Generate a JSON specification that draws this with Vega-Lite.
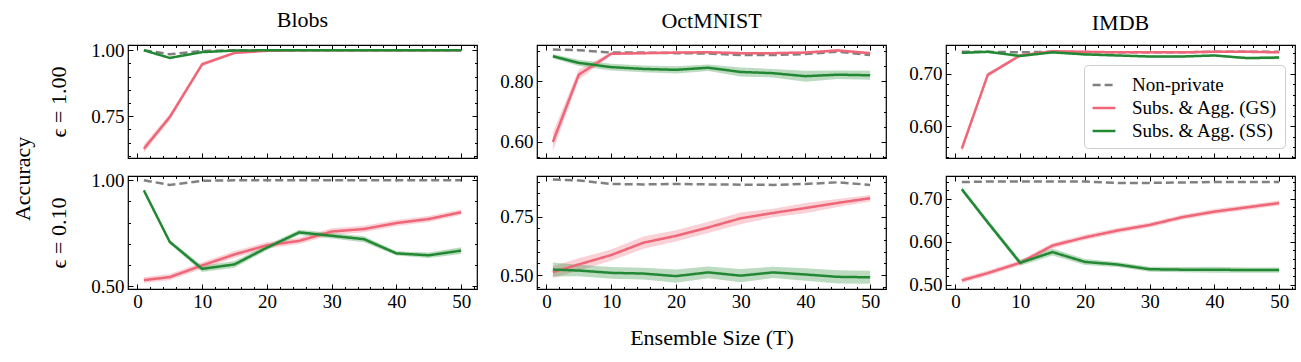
{
"$schema": "https://vega.github.io/schema/vega-lite/v6.json",
"padding": {"left": 12, "top": 8, "right": 8, "bottom": 8},
"data": {"values": [
{"d":"Blobs","e":"1.00","s":"NP","T":1,"a":1.0},{"d":"Blobs","e":"1.00","s":"NP","T":5,"a":0.985},{"d":"Blobs","e":"1.00","s":"NP","T":10,"a":0.997},{"d":"Blobs","e":"1.00","s":"NP","T":15,"a":1.0},{"d":"Blobs","e":"1.00","s":"NP","T":20,"a":1.0},{"d":"Blobs","e":"1.00","s":"NP","T":25,"a":1.0},{"d":"Blobs","e":"1.00","s":"NP","T":30,"a":1.0},{"d":"Blobs","e":"1.00","s":"NP","T":35,"a":1.0},{"d":"Blobs","e":"1.00","s":"NP","T":40,"a":1.0},{"d":"Blobs","e":"1.00","s":"NP","T":45,"a":1.0},{"d":"Blobs","e":"1.00","s":"NP","T":50,"a":1.0},
{"d":"Blobs","e":"1.00","s":"GS","T":1,"a":0.627,"lo":0.612,"hi":0.642},{"d":"Blobs","e":"1.00","s":"GS","T":5,"a":0.747,"lo":0.735,"hi":0.759},{"d":"Blobs","e":"1.00","s":"GS","T":10,"a":0.947,"lo":0.939,"hi":0.955},{"d":"Blobs","e":"1.00","s":"GS","T":15,"a":0.99,"lo":0.986,"hi":0.994},{"d":"Blobs","e":"1.00","s":"GS","T":20,"a":0.998,"lo":0.996,"hi":1.0},{"d":"Blobs","e":"1.00","s":"GS","T":25,"a":1.0,"lo":0.998,"hi":1.0},{"d":"Blobs","e":"1.00","s":"GS","T":30,"a":1.0,"lo":0.998,"hi":1.0},{"d":"Blobs","e":"1.00","s":"GS","T":35,"a":1.0,"lo":0.998,"hi":1.0},{"d":"Blobs","e":"1.00","s":"GS","T":40,"a":1.0,"lo":0.998,"hi":1.0},{"d":"Blobs","e":"1.00","s":"GS","T":45,"a":1.0,"lo":0.998,"hi":1.0},{"d":"Blobs","e":"1.00","s":"GS","T":50,"a":1.0,"lo":0.998,"hi":1.0},
{"d":"Blobs","e":"1.00","s":"SS","T":1,"a":1.0,"lo":0.998,"hi":1.0},{"d":"Blobs","e":"1.00","s":"SS","T":5,"a":0.971,"lo":0.968,"hi":0.974},{"d":"Blobs","e":"1.00","s":"SS","T":10,"a":0.993,"lo":0.99,"hi":0.996},{"d":"Blobs","e":"1.00","s":"SS","T":15,"a":0.999,"lo":0.997,"hi":1.0},{"d":"Blobs","e":"1.00","s":"SS","T":20,"a":1.0,"lo":0.999,"hi":1.0},{"d":"Blobs","e":"1.00","s":"SS","T":25,"a":1.0,"lo":0.999,"hi":1.0},{"d":"Blobs","e":"1.00","s":"SS","T":30,"a":1.0,"lo":0.999,"hi":1.0},{"d":"Blobs","e":"1.00","s":"SS","T":35,"a":1.0,"lo":0.999,"hi":1.0},{"d":"Blobs","e":"1.00","s":"SS","T":40,"a":1.0,"lo":0.999,"hi":1.0},{"d":"Blobs","e":"1.00","s":"SS","T":45,"a":1.0,"lo":0.999,"hi":1.0},{"d":"Blobs","e":"1.00","s":"SS","T":50,"a":1.0,"lo":0.999,"hi":1.0},
{"d":"Blobs","e":"0.10","s":"NP","T":1,"a":1.0},{"d":"Blobs","e":"0.10","s":"NP","T":5,"a":0.978},{"d":"Blobs","e":"0.10","s":"NP","T":10,"a":0.997},{"d":"Blobs","e":"0.10","s":"NP","T":15,"a":1.0},{"d":"Blobs","e":"0.10","s":"NP","T":20,"a":1.0},{"d":"Blobs","e":"0.10","s":"NP","T":25,"a":1.0},{"d":"Blobs","e":"0.10","s":"NP","T":30,"a":1.0},{"d":"Blobs","e":"0.10","s":"NP","T":35,"a":1.0},{"d":"Blobs","e":"0.10","s":"NP","T":40,"a":1.0},{"d":"Blobs","e":"0.10","s":"NP","T":45,"a":1.0},{"d":"Blobs","e":"0.10","s":"NP","T":50,"a":1.0},
{"d":"Blobs","e":"0.10","s":"GS","T":1,"a":0.529,"lo":0.515,"hi":0.543},{"d":"Blobs","e":"0.10","s":"GS","T":5,"a":0.543,"lo":0.528,"hi":0.558},{"d":"Blobs","e":"0.10","s":"GS","T":10,"a":0.598,"lo":0.583,"hi":0.613},{"d":"Blobs","e":"0.10","s":"GS","T":15,"a":0.65,"lo":0.634,"hi":0.666},{"d":"Blobs","e":"0.10","s":"GS","T":20,"a":0.693,"lo":0.678,"hi":0.708},{"d":"Blobs","e":"0.10","s":"GS","T":25,"a":0.714,"lo":0.699,"hi":0.729},{"d":"Blobs","e":"0.10","s":"GS","T":30,"a":0.758,"lo":0.743,"hi":0.773},{"d":"Blobs","e":"0.10","s":"GS","T":35,"a":0.77,"lo":0.755,"hi":0.785},{"d":"Blobs","e":"0.10","s":"GS","T":40,"a":0.798,"lo":0.784,"hi":0.812},{"d":"Blobs","e":"0.10","s":"GS","T":45,"a":0.817,"lo":0.803,"hi":0.831},{"d":"Blobs","e":"0.10","s":"GS","T":50,"a":0.849,"lo":0.836,"hi":0.862},
{"d":"Blobs","e":"0.10","s":"SS","T":1,"a":0.952,"lo":0.946,"hi":0.958},{"d":"Blobs","e":"0.10","s":"SS","T":5,"a":0.709,"lo":0.7,"hi":0.718},{"d":"Blobs","e":"0.10","s":"SS","T":10,"a":0.582,"lo":0.567,"hi":0.597},{"d":"Blobs","e":"0.10","s":"SS","T":15,"a":0.603,"lo":0.587,"hi":0.619},{"d":"Blobs","e":"0.10","s":"SS","T":20,"a":0.682,"lo":0.67,"hi":0.694},{"d":"Blobs","e":"0.10","s":"SS","T":25,"a":0.754,"lo":0.742,"hi":0.766},{"d":"Blobs","e":"0.10","s":"SS","T":30,"a":0.738,"lo":0.725,"hi":0.751},{"d":"Blobs","e":"0.10","s":"SS","T":35,"a":0.722,"lo":0.708,"hi":0.736},{"d":"Blobs","e":"0.10","s":"SS","T":40,"a":0.655,"lo":0.645,"hi":0.665},{"d":"Blobs","e":"0.10","s":"SS","T":45,"a":0.646,"lo":0.633,"hi":0.659},{"d":"Blobs","e":"0.10","s":"SS","T":50,"a":0.668,"lo":0.652,"hi":0.684},
{"d":"OctMNIST","e":"1.00","s":"NP","T":1,"a":0.905},{"d":"OctMNIST","e":"1.00","s":"NP","T":5,"a":0.903},{"d":"OctMNIST","e":"1.00","s":"NP","T":10,"a":0.895},{"d":"OctMNIST","e":"1.00","s":"NP","T":15,"a":0.895},{"d":"OctMNIST","e":"1.00","s":"NP","T":20,"a":0.893},{"d":"OctMNIST","e":"1.00","s":"NP","T":25,"a":0.892},{"d":"OctMNIST","e":"1.00","s":"NP","T":30,"a":0.887},{"d":"OctMNIST","e":"1.00","s":"NP","T":35,"a":0.887},{"d":"OctMNIST","e":"1.00","s":"NP","T":40,"a":0.89},{"d":"OctMNIST","e":"1.00","s":"NP","T":45,"a":0.898},{"d":"OctMNIST","e":"1.00","s":"NP","T":50,"a":0.887},
{"d":"OctMNIST","e":"1.00","s":"GS","T":1,"a":0.6,"lo":0.57,"hi":0.63},{"d":"OctMNIST","e":"1.00","s":"GS","T":5,"a":0.822,"lo":0.805,"hi":0.839},{"d":"OctMNIST","e":"1.00","s":"GS","T":10,"a":0.891,"lo":0.886,"hi":0.896},{"d":"OctMNIST","e":"1.00","s":"GS","T":15,"a":0.893,"lo":0.889,"hi":0.897},{"d":"OctMNIST","e":"1.00","s":"GS","T":20,"a":0.895,"lo":0.891,"hi":0.899},{"d":"OctMNIST","e":"1.00","s":"GS","T":25,"a":0.896,"lo":0.892,"hi":0.9},{"d":"OctMNIST","e":"1.00","s":"GS","T":30,"a":0.893,"lo":0.889,"hi":0.897},{"d":"OctMNIST","e":"1.00","s":"GS","T":35,"a":0.893,"lo":0.889,"hi":0.897},{"d":"OctMNIST","e":"1.00","s":"GS","T":40,"a":0.895,"lo":0.891,"hi":0.899},{"d":"OctMNIST","e":"1.00","s":"GS","T":45,"a":0.902,"lo":0.898,"hi":0.906},{"d":"OctMNIST","e":"1.00","s":"GS","T":50,"a":0.893,"lo":0.889,"hi":0.897},
{"d":"OctMNIST","e":"1.00","s":"SS","T":1,"a":0.883,"lo":0.876,"hi":0.89},{"d":"OctMNIST","e":"1.00","s":"SS","T":5,"a":0.861,"lo":0.851,"hi":0.871},{"d":"OctMNIST","e":"1.00","s":"SS","T":10,"a":0.847,"lo":0.836,"hi":0.858},{"d":"OctMNIST","e":"1.00","s":"SS","T":15,"a":0.841,"lo":0.83,"hi":0.852},{"d":"OctMNIST","e":"1.00","s":"SS","T":20,"a":0.838,"lo":0.826,"hi":0.85},{"d":"OctMNIST","e":"1.00","s":"SS","T":25,"a":0.845,"lo":0.834,"hi":0.856},{"d":"OctMNIST","e":"1.00","s":"SS","T":30,"a":0.831,"lo":0.816,"hi":0.846},{"d":"OctMNIST","e":"1.00","s":"SS","T":35,"a":0.827,"lo":0.813,"hi":0.841},{"d":"OctMNIST","e":"1.00","s":"SS","T":40,"a":0.817,"lo":0.799,"hi":0.835},{"d":"OctMNIST","e":"1.00","s":"SS","T":45,"a":0.822,"lo":0.808,"hi":0.836},{"d":"OctMNIST","e":"1.00","s":"SS","T":50,"a":0.82,"lo":0.805,"hi":0.835},
{"d":"OctMNIST","e":"0.10","s":"NP","T":1,"a":0.909},{"d":"OctMNIST","e":"0.10","s":"NP","T":5,"a":0.905},{"d":"OctMNIST","e":"0.10","s":"NP","T":10,"a":0.89},{"d":"OctMNIST","e":"0.10","s":"NP","T":15,"a":0.888},{"d":"OctMNIST","e":"0.10","s":"NP","T":20,"a":0.89},{"d":"OctMNIST","e":"0.10","s":"NP","T":25,"a":0.888},{"d":"OctMNIST","e":"0.10","s":"NP","T":30,"a":0.887},{"d":"OctMNIST","e":"0.10","s":"NP","T":35,"a":0.886},{"d":"OctMNIST","e":"0.10","s":"NP","T":40,"a":0.89},{"d":"OctMNIST","e":"0.10","s":"NP","T":45,"a":0.897},{"d":"OctMNIST","e":"0.10","s":"NP","T":50,"a":0.886},
{"d":"OctMNIST","e":"0.10","s":"GS","T":1,"a":0.513,"lo":0.488,"hi":0.538},{"d":"OctMNIST","e":"0.10","s":"GS","T":5,"a":0.546,"lo":0.52,"hi":0.572},{"d":"OctMNIST","e":"0.10","s":"GS","T":10,"a":0.586,"lo":0.562,"hi":0.61},{"d":"OctMNIST","e":"0.10","s":"GS","T":15,"a":0.639,"lo":0.613,"hi":0.665},{"d":"OctMNIST","e":"0.10","s":"GS","T":20,"a":0.668,"lo":0.644,"hi":0.692},{"d":"OctMNIST","e":"0.10","s":"GS","T":25,"a":0.704,"lo":0.68,"hi":0.728},{"d":"OctMNIST","e":"0.10","s":"GS","T":30,"a":0.743,"lo":0.718,"hi":0.768},{"d":"OctMNIST","e":"0.10","s":"GS","T":35,"a":0.766,"lo":0.748,"hi":0.784},{"d":"OctMNIST","e":"0.10","s":"GS","T":40,"a":0.787,"lo":0.765,"hi":0.809},{"d":"OctMNIST","e":"0.10","s":"GS","T":45,"a":0.809,"lo":0.792,"hi":0.826},{"d":"OctMNIST","e":"0.10","s":"GS","T":50,"a":0.829,"lo":0.815,"hi":0.843},
{"d":"OctMNIST","e":"0.10","s":"SS","T":1,"a":0.524,"lo":0.494,"hi":0.554},{"d":"OctMNIST","e":"0.10","s":"SS","T":5,"a":0.52,"lo":0.495,"hi":0.545},{"d":"OctMNIST","e":"0.10","s":"SS","T":10,"a":0.51,"lo":0.485,"hi":0.535},{"d":"OctMNIST","e":"0.10","s":"SS","T":15,"a":0.507,"lo":0.482,"hi":0.532},{"d":"OctMNIST","e":"0.10","s":"SS","T":20,"a":0.496,"lo":0.468,"hi":0.524},{"d":"OctMNIST","e":"0.10","s":"SS","T":25,"a":0.512,"lo":0.487,"hi":0.537},{"d":"OctMNIST","e":"0.10","s":"SS","T":30,"a":0.498,"lo":0.47,"hi":0.526},{"d":"OctMNIST","e":"0.10","s":"SS","T":35,"a":0.512,"lo":0.488,"hi":0.536},{"d":"OctMNIST","e":"0.10","s":"SS","T":40,"a":0.503,"lo":0.476,"hi":0.53},{"d":"OctMNIST","e":"0.10","s":"SS","T":45,"a":0.493,"lo":0.465,"hi":0.521},{"d":"OctMNIST","e":"0.10","s":"SS","T":50,"a":0.491,"lo":0.463,"hi":0.519},
{"d":"IMDB","e":"1.00","s":"NP","T":1,"a":0.742},{"d":"IMDB","e":"1.00","s":"NP","T":5,"a":0.742},{"d":"IMDB","e":"1.00","s":"NP","T":10,"a":0.741},{"d":"IMDB","e":"1.00","s":"NP","T":15,"a":0.742},{"d":"IMDB","e":"1.00","s":"NP","T":20,"a":0.741},{"d":"IMDB","e":"1.00","s":"NP","T":25,"a":0.741},{"d":"IMDB","e":"1.00","s":"NP","T":30,"a":0.741},{"d":"IMDB","e":"1.00","s":"NP","T":35,"a":0.741},{"d":"IMDB","e":"1.00","s":"NP","T":40,"a":0.742},{"d":"IMDB","e":"1.00","s":"NP","T":45,"a":0.742},{"d":"IMDB","e":"1.00","s":"NP","T":50,"a":0.742},
{"d":"IMDB","e":"1.00","s":"GS","T":1,"a":0.557,"lo":0.55,"hi":0.564},{"d":"IMDB","e":"1.00","s":"GS","T":5,"a":0.698,"lo":0.694,"hi":0.702},{"d":"IMDB","e":"1.00","s":"GS","T":10,"a":0.735,"lo":0.732,"hi":0.738},{"d":"IMDB","e":"1.00","s":"GS","T":15,"a":0.743,"lo":0.741,"hi":0.745},{"d":"IMDB","e":"1.00","s":"GS","T":20,"a":0.742,"lo":0.74,"hi":0.744},{"d":"IMDB","e":"1.00","s":"GS","T":25,"a":0.741,"lo":0.739,"hi":0.743},{"d":"IMDB","e":"1.00","s":"GS","T":30,"a":0.741,"lo":0.739,"hi":0.743},{"d":"IMDB","e":"1.00","s":"GS","T":35,"a":0.741,"lo":0.739,"hi":0.743},{"d":"IMDB","e":"1.00","s":"GS","T":40,"a":0.742,"lo":0.74,"hi":0.744},{"d":"IMDB","e":"1.00","s":"GS","T":45,"a":0.742,"lo":0.74,"hi":0.744},{"d":"IMDB","e":"1.00","s":"GS","T":50,"a":0.741,"lo":0.739,"hi":0.743},
{"d":"IMDB","e":"1.00","s":"SS","T":1,"a":0.74,"lo":0.738,"hi":0.742},{"d":"IMDB","e":"1.00","s":"SS","T":5,"a":0.742,"lo":0.74,"hi":0.744},{"d":"IMDB","e":"1.00","s":"SS","T":10,"a":0.734,"lo":0.732,"hi":0.736},{"d":"IMDB","e":"1.00","s":"SS","T":15,"a":0.741,"lo":0.739,"hi":0.743},{"d":"IMDB","e":"1.00","s":"SS","T":20,"a":0.737,"lo":0.735,"hi":0.739},{"d":"IMDB","e":"1.00","s":"SS","T":25,"a":0.735,"lo":0.733,"hi":0.737},{"d":"IMDB","e":"1.00","s":"SS","T":30,"a":0.733,"lo":0.731,"hi":0.735},{"d":"IMDB","e":"1.00","s":"SS","T":35,"a":0.733,"lo":0.731,"hi":0.735},{"d":"IMDB","e":"1.00","s":"SS","T":40,"a":0.735,"lo":0.733,"hi":0.737},{"d":"IMDB","e":"1.00","s":"SS","T":45,"a":0.73,"lo":0.728,"hi":0.732},{"d":"IMDB","e":"1.00","s":"SS","T":50,"a":0.731,"lo":0.728,"hi":0.734},
{"d":"IMDB","e":"0.10","s":"NP","T":1,"a":0.739},{"d":"IMDB","e":"0.10","s":"NP","T":5,"a":0.74},{"d":"IMDB","e":"0.10","s":"NP","T":10,"a":0.74},{"d":"IMDB","e":"0.10","s":"NP","T":15,"a":0.74},{"d":"IMDB","e":"0.10","s":"NP","T":20,"a":0.74},{"d":"IMDB","e":"0.10","s":"NP","T":25,"a":0.737},{"d":"IMDB","e":"0.10","s":"NP","T":30,"a":0.737},{"d":"IMDB","e":"0.10","s":"NP","T":35,"a":0.738},{"d":"IMDB","e":"0.10","s":"NP","T":40,"a":0.739},{"d":"IMDB","e":"0.10","s":"NP","T":45,"a":0.739},{"d":"IMDB","e":"0.10","s":"NP","T":50,"a":0.739},
{"d":"IMDB","e":"0.10","s":"GS","T":1,"a":0.51,"lo":0.504,"hi":0.516},{"d":"IMDB","e":"0.10","s":"GS","T":5,"a":0.527,"lo":0.521,"hi":0.533},{"d":"IMDB","e":"0.10","s":"GS","T":10,"a":0.551,"lo":0.545,"hi":0.557},{"d":"IMDB","e":"0.10","s":"GS","T":15,"a":0.591,"lo":0.585,"hi":0.597},{"d":"IMDB","e":"0.10","s":"GS","T":20,"a":0.61,"lo":0.604,"hi":0.616},{"d":"IMDB","e":"0.10","s":"GS","T":25,"a":0.626,"lo":0.62,"hi":0.632},{"d":"IMDB","e":"0.10","s":"GS","T":30,"a":0.639,"lo":0.633,"hi":0.645},{"d":"IMDB","e":"0.10","s":"GS","T":35,"a":0.657,"lo":0.651,"hi":0.663},{"d":"IMDB","e":"0.10","s":"GS","T":40,"a":0.67,"lo":0.664,"hi":0.676},{"d":"IMDB","e":"0.10","s":"GS","T":45,"a":0.68,"lo":0.674,"hi":0.686},{"d":"IMDB","e":"0.10","s":"GS","T":50,"a":0.69,"lo":0.684,"hi":0.696},
{"d":"IMDB","e":"0.10","s":"SS","T":1,"a":0.722,"lo":0.716,"hi":0.728},{"d":"IMDB","e":"0.10","s":"SS","T":5,"a":0.645,"lo":0.639,"hi":0.651},{"d":"IMDB","e":"0.10","s":"SS","T":10,"a":0.551,"lo":0.544,"hi":0.558},{"d":"IMDB","e":"0.10","s":"SS","T":15,"a":0.576,"lo":0.568,"hi":0.584},{"d":"IMDB","e":"0.10","s":"SS","T":20,"a":0.553,"lo":0.546,"hi":0.56},{"d":"IMDB","e":"0.10","s":"SS","T":25,"a":0.547,"lo":0.541,"hi":0.553},{"d":"IMDB","e":"0.10","s":"SS","T":30,"a":0.536,"lo":0.53,"hi":0.542},{"d":"IMDB","e":"0.10","s":"SS","T":35,"a":0.535,"lo":0.529,"hi":0.541},{"d":"IMDB","e":"0.10","s":"SS","T":40,"a":0.535,"lo":0.528,"hi":0.542},{"d":"IMDB","e":"0.10","s":"SS","T":45,"a":0.534,"lo":0.528,"hi":0.54},{"d":"IMDB","e":"0.10","s":"SS","T":50,"a":0.534,"lo":0.528,"hi":0.54}
]},
"title": {"text": "Accuracy", "orient": "left", "anchor": "middle", "offset": 12},
"columns": 3,
"spacing": {"row": 18, "column": 60},
"bounds": "flush",
"resolve": {"scale": {"color": "independent", "strokeDash": "independent", "fill": "independent"}},
"concat": [
{"width": 349, "height": 113, "title": {"text": "Blobs"},
 "transform": [{"filter": "datum.d=='Blobs' && datum.e=='1.00'"}],
 "layer": [
  {"transform": [{"filter": "datum.s!='NP'"}], "mark": {"type": "area", "opacity": 0.3, "clip": true},
   "encoding": {
    "x": {"field": "T", "type": "quantitative", "scale": {"domain": [-1.45, 52.45], "nice": false, "zero": false},
      "axis": {"orient": "bottom", "labels": false, "title": null, "values": [0,2,4,6,8,10,12,14,16,18,20,22,24,26,28,30,32,34,36,38,40,42,44,46,48,50,52], "tickSize": {"condition": {"test": "datum.value % 10 == 0", "value": -5}, "value": -2.5}}},
    "y": {"field": "lo", "type": "quantitative", "scale": {"domain": [0.592, 1.02], "nice": false, "zero": false},
      "axis": {"orient": "left", "title": "ϵ = 1.00", "titlePadding": 20, "format": ".2f", "values": [0.6,0.65,0.7,0.75,0.8,0.85,0.9,0.95,1.0], "labelExpr": "(datum.value == 0.75 || datum.value == 1) ? datum.label : ''", "labelPadding": 9, "tickSize": {"condition": {"test": "datum.value == 0.75 || datum.value == 1", "value": -5}, "value": -2.5}}},
    "y2": {"field": "hi"},
    "fill": {"field": "s", "type": "nominal", "scale": {"domain": ["GS","SS"], "range": ["#EE6677","#228833"]}, "legend": null}}},
  {"mark": {"type": "line", "clip": true, "strokeWidth": 2.5},
   "encoding": {
    "x": {"field": "T", "type": "quantitative", "axis": {"orient": "top", "labels": false, "title": null, "values": [0,2,4,6,8,10,12,14,16,18,20,22,24,26,28,30,32,34,36,38,40,42,44,46,48,50,52], "tickSize": {"condition": {"test": "datum.value % 10 == 0", "value": -5}, "value": -2.5}}},
    "y": {"field": "a", "type": "quantitative", "axis": {"orient": "right", "labels": false, "title": null, "values": [0.6,0.65,0.7,0.75,0.8,0.85,0.9,0.95,1.0], "tickSize": {"condition": {"test": "datum.value == 0.75 || datum.value == 1", "value": -5}, "value": -2.5}}},
    "color": {"field": "s", "type": "nominal", "scale": {"domain": ["NP","GS","SS"], "range": ["#808080","#EE6677","#228833"]}, "legend": null},
    "strokeDash": {"field": "s", "type": "nominal", "scale": {"domain": ["NP","GS","SS"], "range": [[8,4],[1,0],[1,0]]}, "legend": null}}}
 ],
 "resolve": {"axis": {"x": "independent", "y": "independent"}}},
{"width": 349, "height": 113, "title": {"text": "OctMNIST"},
 "transform": [{"filter": "datum.d=='OctMNIST' && datum.e=='1.00'"}],
 "layer": [
  {"transform": [{"filter": "datum.s!='NP'"}], "mark": {"type": "area", "opacity": 0.3, "clip": true},
   "encoding": {
    "x": {"field": "T", "type": "quantitative", "scale": {"domain": [-1.45, 52.45], "nice": false, "zero": false},
      "axis": {"orient": "bottom", "labels": false, "title": null, "values": [0,2,4,6,8,10,12,14,16,18,20,22,24,26,28,30,32,34,36,38,40,42,44,46,48,50,52], "tickSize": {"condition": {"test": "datum.value % 10 == 0", "value": -5}, "value": -2.5}}},
    "y": {"field": "lo", "type": "quantitative", "scale": {"domain": [0.547, 0.92], "nice": false, "zero": false},
      "axis": {"orient": "left", "title": null, "format": ".2f", "values": [0.55,0.6,0.65,0.7,0.75,0.8,0.85,0.9], "labelExpr": "(datum.value == 0.6 || datum.value == 0.8) ? datum.label : ''", "labelPadding": 9, "tickSize": {"condition": {"test": "datum.value == 0.6 || datum.value == 0.8", "value": -5}, "value": -2.5}}},
    "y2": {"field": "hi"},
    "fill": {"field": "s", "type": "nominal", "scale": {"domain": ["GS","SS"], "range": ["#EE6677","#228833"]}, "legend": null}}},
  {"mark": {"type": "line", "clip": true, "strokeWidth": 2.5},
   "encoding": {
    "x": {"field": "T", "type": "quantitative", "axis": {"orient": "top", "labels": false, "title": null, "values": [0,2,4,6,8,10,12,14,16,18,20,22,24,26,28,30,32,34,36,38,40,42,44,46,48,50,52], "tickSize": {"condition": {"test": "datum.value % 10 == 0", "value": -5}, "value": -2.5}}},
    "y": {"field": "a", "type": "quantitative", "axis": {"orient": "right", "labels": false, "title": null, "values": [0.55,0.6,0.65,0.7,0.75,0.8,0.85,0.9], "tickSize": {"condition": {"test": "datum.value == 0.6 || datum.value == 0.8", "value": -5}, "value": -2.5}}},
    "color": {"field": "s", "type": "nominal", "scale": {"domain": ["NP","GS","SS"], "range": ["#808080","#EE6677","#228833"]}, "legend": null},
    "strokeDash": {"field": "s", "type": "nominal", "scale": {"domain": ["NP","GS","SS"], "range": [[8,4],[1,0],[1,0]]}, "legend": null}}}
 ],
 "resolve": {"axis": {"x": "independent", "y": "independent"}}},
{"width": 349, "height": 113, "title": {"text": "IMDB"},
 "transform": [{"filter": "datum.d=='IMDB' && datum.e=='1.00'"}],
 "layer": [
  {"transform": [{"filter": "datum.s!='NP'"}], "mark": {"type": "area", "opacity": 0.3, "clip": true},
   "encoding": {
    "x": {"field": "T", "type": "quantitative", "scale": {"domain": [-1.45, 52.45], "nice": false, "zero": false},
      "axis": {"orient": "bottom", "labels": false, "title": null, "values": [0,2,4,6,8,10,12,14,16,18,20,22,24,26,28,30,32,34,36,38,40,42,44,46,48,50,52], "tickSize": {"condition": {"test": "datum.value % 10 == 0", "value": -5}, "value": -2.5}}},
    "y": {"field": "lo", "type": "quantitative", "scale": {"domain": [0.539, 0.755], "nice": false, "zero": false},
      "axis": {"orient": "left", "title": null, "format": ".2f", "values": [0.54,0.56,0.58,0.6,0.62,0.64,0.66,0.68,0.7,0.72,0.74], "labelExpr": "(datum.value == 0.6 || datum.value == 0.7) ? datum.label : ''", "labelPadding": 9, "tickSize": {"condition": {"test": "datum.value == 0.6 || datum.value == 0.7", "value": -5}, "value": -2.5}}},
    "y2": {"field": "hi"},
    "fill": {"field": "s", "type": "nominal", "scale": {"domain": ["GS","SS"], "range": ["#EE6677","#228833"]}, "legend": null}}},
  {"mark": {"type": "line", "clip": true, "strokeWidth": 2.5},
   "encoding": {
    "x": {"field": "T", "type": "quantitative", "axis": {"orient": "top", "labels": false, "title": null, "values": [0,2,4,6,8,10,12,14,16,18,20,22,24,26,28,30,32,34,36,38,40,42,44,46,48,50,52], "tickSize": {"condition": {"test": "datum.value % 10 == 0", "value": -5}, "value": -2.5}}},
    "y": {"field": "a", "type": "quantitative", "axis": {"orient": "right", "labels": false, "title": null, "values": [0.54,0.56,0.58,0.6,0.62,0.64,0.66,0.68,0.7,0.72,0.74], "tickSize": {"condition": {"test": "datum.value == 0.6 || datum.value == 0.7", "value": -5}, "value": -2.5}}},
    "color": {"field": "s", "type": "nominal", "scale": {"domain": ["NP","GS","SS"], "range": ["#808080","#EE6677","#228833"]},
      "legend": {"orient": "bottom-right", "offset": 10, "title": null, "labelExpr": "datum.label == 'NP' ? 'Non-private' : datum.label == 'GS' ? 'Subs. & Agg. (GS)' : 'Subs. & Agg. (SS)'"}},
    "strokeDash": {"field": "s", "type": "nominal", "scale": {"domain": ["NP","GS","SS"], "range": [[8,4],[1,0],[1,0]]},
      "legend": {"orient": "bottom-right", "offset": 10, "title": null, "labelExpr": "datum.label == 'NP' ? 'Non-private' : datum.label == 'GS' ? 'Subs. & Agg. (GS)' : 'Subs. & Agg. (SS)'"}}}}
 ],
 "resolve": {"axis": {"x": "independent", "y": "independent"}}},
{"width": 349, "height": 113,
 "transform": [{"filter": "datum.d=='Blobs' && datum.e=='0.10'"}],
 "layer": [
  {"transform": [{"filter": "datum.s!='NP'"}], "mark": {"type": "area", "opacity": 0.3, "clip": true},
   "encoding": {
    "x": {"field": "T", "type": "quantitative", "scale": {"domain": [-1.45, 52.45], "nice": false, "zero": false},
      "axis": {"orient": "bottom", "title": null, "labelPadding": 8, "values": [0,2,4,6,8,10,12,14,16,18,20,22,24,26,28,30,32,34,36,38,40,42,44,46,48,50,52], "labelExpr": "datum.value % 10 == 0 ? datum.label : ''", "tickSize": {"condition": {"test": "datum.value % 10 == 0", "value": -5}, "value": -2.5}}},
    "y": {"field": "lo", "type": "quantitative", "scale": {"domain": [0.487, 1.02], "nice": false, "zero": false},
      "axis": {"orient": "left", "title": "ϵ = 0.10", "titlePadding": 20, "format": ".2f", "values": [0.5,0.6,0.7,0.8,0.9,1.0], "labelExpr": "(datum.value == 0.5 || datum.value == 1) ? datum.label : ''", "labelPadding": 9, "tickSize": {"condition": {"test": "datum.value == 0.5 || datum.value == 1", "value": -5}, "value": -2.5}}},
    "y2": {"field": "hi"},
    "fill": {"field": "s", "type": "nominal", "scale": {"domain": ["GS","SS"], "range": ["#EE6677","#228833"]}, "legend": null}}},
  {"mark": {"type": "line", "clip": true, "strokeWidth": 2.5},
   "encoding": {
    "x": {"field": "T", "type": "quantitative", "axis": {"orient": "top", "labels": false, "title": null, "values": [0,2,4,6,8,10,12,14,16,18,20,22,24,26,28,30,32,34,36,38,40,42,44,46,48,50,52], "tickSize": {"condition": {"test": "datum.value % 10 == 0", "value": -5}, "value": -2.5}}},
    "y": {"field": "a", "type": "quantitative", "axis": {"orient": "right", "labels": false, "title": null, "values": [0.5,0.6,0.7,0.8,0.9,1.0], "tickSize": {"condition": {"test": "datum.value == 0.5 || datum.value == 1", "value": -5}, "value": -2.5}}},
    "color": {"field": "s", "type": "nominal", "scale": {"domain": ["NP","GS","SS"], "range": ["#808080","#EE6677","#228833"]}, "legend": null},
    "strokeDash": {"field": "s", "type": "nominal", "scale": {"domain": ["NP","GS","SS"], "range": [[8,4],[1,0],[1,0]]}, "legend": null}}}
 ],
 "resolve": {"axis": {"x": "independent", "y": "independent"}}},
{"width": 349, "height": 113,
 "transform": [{"filter": "datum.d=='OctMNIST' && datum.e=='0.10'"}],
 "layer": [
  {"transform": [{"filter": "datum.s!='NP'"}], "mark": {"type": "area", "opacity": 0.3, "clip": true},
   "encoding": {
    "x": {"field": "T", "type": "quantitative", "scale": {"domain": [-1.45, 52.45], "nice": false, "zero": false},
      "axis": {"orient": "bottom", "title": "Ensemble Size (T)", "titlePadding": 14, "labelPadding": 8, "values": [0,2,4,6,8,10,12,14,16,18,20,22,24,26,28,30,32,34,36,38,40,42,44,46,48,50,52], "labelExpr": "datum.value % 10 == 0 ? datum.label : ''", "tickSize": {"condition": {"test": "datum.value % 10 == 0", "value": -5}, "value": -2.5}}},
    "y": {"field": "lo", "type": "quantitative", "scale": {"domain": [0.441, 0.924], "nice": false, "zero": false},
      "axis": {"orient": "left", "title": null, "format": ".2f", "values": [0.45,0.5,0.55,0.6,0.65,0.7,0.75,0.8,0.85,0.9], "labelExpr": "(datum.value == 0.5 || datum.value == 0.75) ? datum.label : ''", "labelPadding": 9, "tickSize": {"condition": {"test": "datum.value == 0.5 || datum.value == 0.75", "value": -5}, "value": -2.5}}},
    "y2": {"field": "hi"},
    "fill": {"field": "s", "type": "nominal", "scale": {"domain": ["GS","SS"], "range": ["#EE6677","#228833"]}, "legend": null}}},
  {"mark": {"type": "line", "clip": true, "strokeWidth": 2.5},
   "encoding": {
    "x": {"field": "T", "type": "quantitative", "axis": {"orient": "top", "labels": false, "title": null, "values": [0,2,4,6,8,10,12,14,16,18,20,22,24,26,28,30,32,34,36,38,40,42,44,46,48,50,52], "tickSize": {"condition": {"test": "datum.value % 10 == 0", "value": -5}, "value": -2.5}}},
    "y": {"field": "a", "type": "quantitative", "axis": {"orient": "right", "labels": false, "title": null, "values": [0.45,0.5,0.55,0.6,0.65,0.7,0.75,0.8,0.85,0.9], "tickSize": {"condition": {"test": "datum.value == 0.5 || datum.value == 0.75", "value": -5}, "value": -2.5}}},
    "color": {"field": "s", "type": "nominal", "scale": {"domain": ["NP","GS","SS"], "range": ["#808080","#EE6677","#228833"]}, "legend": null},
    "strokeDash": {"field": "s", "type": "nominal", "scale": {"domain": ["NP","GS","SS"], "range": [[8,4],[1,0],[1,0]]}, "legend": null}}}
 ],
 "resolve": {"axis": {"x": "independent", "y": "independent"}}},
{"width": 349, "height": 113,
 "transform": [{"filter": "datum.d=='IMDB' && datum.e=='0.10'"}],
 "layer": [
  {"transform": [{"filter": "datum.s!='NP'"}], "mark": {"type": "area", "opacity": 0.3, "clip": true},
   "encoding": {
    "x": {"field": "T", "type": "quantitative", "scale": {"domain": [-1.45, 52.45], "nice": false, "zero": false},
      "axis": {"orient": "bottom", "title": null, "labelPadding": 8, "values": [0,2,4,6,8,10,12,14,16,18,20,22,24,26,28,30,32,34,36,38,40,42,44,46,48,50,52], "labelExpr": "datum.value % 10 == 0 ? datum.label : ''", "tickSize": {"condition": {"test": "datum.value % 10 == 0", "value": -5}, "value": -2.5}}},
    "y": {"field": "lo", "type": "quantitative", "scale": {"domain": [0.49, 0.753], "nice": false, "zero": false},
      "axis": {"orient": "left", "title": null, "format": ".2f", "values": [0.5,0.52,0.54,0.56,0.58,0.6,0.62,0.64,0.66,0.68,0.7,0.72,0.74], "labelExpr": "(datum.value == 0.5 || datum.value == 0.6 || datum.value == 0.7) ? datum.label : ''", "labelPadding": 9, "tickSize": {"condition": {"test": "datum.value == 0.5 || datum.value == 0.6 || datum.value == 0.7", "value": -5}, "value": -2.5}}},
    "y2": {"field": "hi"},
    "fill": {"field": "s", "type": "nominal", "scale": {"domain": ["GS","SS"], "range": ["#EE6677","#228833"]}, "legend": null}}},
  {"mark": {"type": "line", "clip": true, "strokeWidth": 2.5},
   "encoding": {
    "x": {"field": "T", "type": "quantitative", "axis": {"orient": "top", "labels": false, "title": null, "values": [0,2,4,6,8,10,12,14,16,18,20,22,24,26,28,30,32,34,36,38,40,42,44,46,48,50,52], "tickSize": {"condition": {"test": "datum.value % 10 == 0", "value": -5}, "value": -2.5}}},
    "y": {"field": "a", "type": "quantitative", "axis": {"orient": "right", "labels": false, "title": null, "values": [0.5,0.52,0.54,0.56,0.58,0.6,0.62,0.64,0.66,0.68,0.7,0.72,0.74], "tickSize": {"condition": {"test": "datum.value == 0.5 || datum.value == 0.6 || datum.value == 0.7", "value": -5}, "value": -2.5}}},
    "color": {"field": "s", "type": "nominal", "scale": {"domain": ["NP","GS","SS"], "range": ["#808080","#EE6677","#228833"]}, "legend": null},
    "strokeDash": {"field": "s", "type": "nominal", "scale": {"domain": ["NP","GS","SS"], "range": [[8,4],[1,0],[1,0]]}, "legend": null}}}
 ],
 "resolve": {"axis": {"x": "independent", "y": "independent"}}}
],
"config": {
 "font": "Liberation Serif",
 "background": "#ffffff",
 "view": {"stroke": "#000000", "strokeWidth": 1.2},
 "axis": {"domain": false, "grid": false, "labelFont": "Liberation Serif", "labelFontSize": 19, "labelColor": "#000000", "tickColor": "#000000", "tickWidth": 1, "titleFont": "Liberation Serif", "titleFontSize": 22, "titleFontWeight": "normal", "titleColor": "#000000", "labelOverlap": false, "labelFlush": false, "labelBound": false},
 "title": {"font": "Liberation Serif", "fontSize": 22, "fontWeight": "normal", "color": "#000000", "offset": 9},
 "legend": {"strokeColor": "#cccccc", "cornerRadius": 4, "fillColor": "#ffffff", "padding": 7, "symbolType": "stroke", "symbolSize": 520, "symbolStrokeWidth": 2.5, "labelFont": "Liberation Serif", "labelFontSize": 19, "labelColor": "#000000", "rowPadding": 0, "labelOffset": 15}
}
}
